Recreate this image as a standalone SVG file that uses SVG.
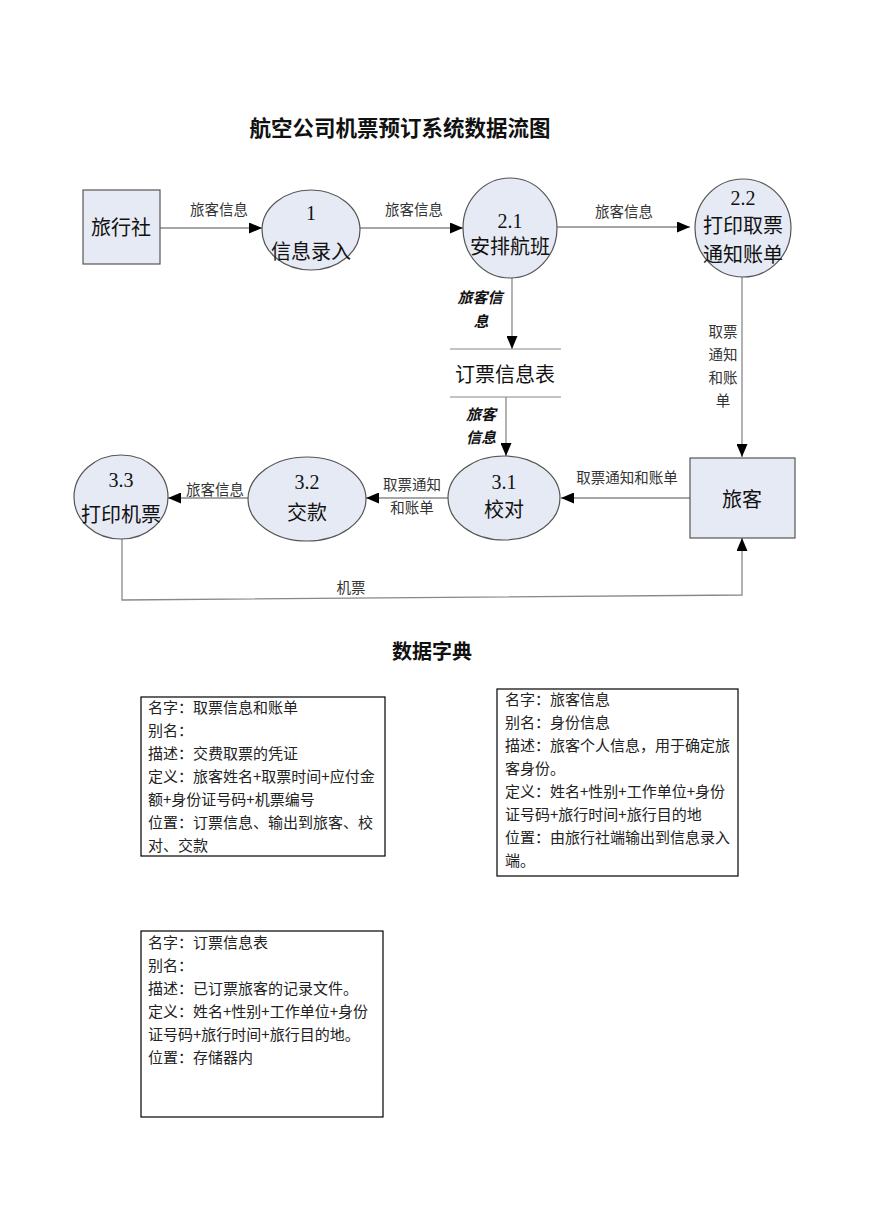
<svg xmlns="http://www.w3.org/2000/svg" width="869" height="1228" viewBox="0 0 869 1228">
<style>
text{font-family:"Liberation Serif","Noto Sans CJK SC",serif;fill:#111}
.cn{font-family:"Noto Sans CJK SC","Liberation Sans",sans-serif}
.node{fill:#e6eaf4;stroke:#555;stroke-width:1.2}
.big{font-size:20px;text-anchor:middle}
.lbl{font-size:14.5px;text-anchor:middle;fill:#333}
.bi{font-size:15px;text-anchor:middle;font-weight:bold;font-style:italic}
.conn{fill:none;stroke:#888;stroke-width:1.3}
.dict{fill:#fff;stroke:#000;stroke-width:1.2}
.dt{font-size:15px;fill:#222}
.title{font-size:21.5px;font-weight:bold;text-anchor:middle}
</style>
<defs>
<marker id="arr" markerUnits="userSpaceOnUse" markerWidth="13" markerHeight="11" refX="13" refY="5.5" orient="auto">
<path d="M0,0 L13,5.5 L0,11 z" fill="#000"/>
</marker>
</defs>
<rect width="869" height="1228" fill="#fff"/>
<text class="title cn" x="400" y="136">航空公司机票预订系统数据流图</text>

<g id="connectors">
<line class="conn" x1="160" y1="228" x2="262" y2="228" marker-end="url(#arr)"/>
<line class="conn" x1="360" y1="228" x2="463" y2="228" marker-end="url(#arr)"/>
<line class="conn" x1="557" y1="227" x2="690" y2="227" marker-end="url(#arr)"/>
<line class="conn" x1="512" y1="277" x2="512" y2="349" marker-end="url(#arr)"/>
<line class="conn" x1="506" y1="397" x2="506" y2="456" marker-end="url(#arr)"/>
<line class="conn" x1="742" y1="277" x2="742" y2="457" marker-end="url(#arr)"/>
<line class="conn" x1="690" y1="498" x2="561" y2="498" marker-end="url(#arr)"/>
<line class="conn" x1="448" y1="498" x2="366" y2="498" marker-end="url(#arr)"/>
<line class="conn" x1="248" y1="498" x2="168" y2="498" marker-end="url(#arr)"/>
<polyline class="conn" points="122,539 122,600 742,595 742,538" marker-end="url(#arr)"/>
<text class="lbl cn" x="219" y="215">旅客信息</text>
<text class="lbl cn" x="414" y="215">旅客信息</text>
<text class="lbl cn" x="624" y="217">旅客信息</text>
<text class="bi cn" x="480" y="303">旅客信</text>
<text class="bi cn" x="481" y="327">息</text>
<text class="bi cn" x="481" y="420">旅客</text>
<text class="bi cn" x="481" y="443">信息</text>
<text class="lbl cn" x="723" y="337">取票</text>
<text class="lbl cn" x="723" y="360">通知</text>
<text class="lbl cn" x="723" y="383">和账</text>
<text class="lbl cn" x="723" y="406">单</text>
<text class="lbl cn" x="627" y="483">取票通知和账单</text>
<text class="lbl cn" x="412" y="490">取票通知</text>
<text class="lbl cn" x="412" y="513">和账单</text>
<text class="lbl cn" x="215" y="495">旅客信息</text>
<text class="lbl cn" x="351" y="593">机票</text>
</g>

<g id="n-agency">
<rect class="node" x="83" y="190" width="77" height="74"/>
<text class="big cn" x="121" y="235">旅行社</text>
</g>
<g id="n-1">
<ellipse class="node" cx="311" cy="230" rx="49" ry="40"/>
<text class="big" x="311" y="220">1</text>
<text class="big cn" x="311" y="259">信息录入</text>
</g>
<g id="n-2-1">
<ellipse class="node" cx="510" cy="228" rx="47" ry="50"/>
<text class="big" x="510" y="228">2.1</text>
<text class="big cn" x="510" y="254">安排航班</text>
</g>
<g id="n-2-2">
<ellipse class="node" cx="743" cy="228" rx="48" ry="49"/>
<text class="big" x="743" y="205">2.2</text>
<text class="big cn" x="743" y="233">打印取票</text>
<text class="big cn" x="743" y="262">通知账单</text>
</g>
<g id="n-store">
<line x1="450" y1="349" x2="561" y2="349" stroke="#888" stroke-width="1.2"/>
<line x1="450" y1="397" x2="561" y2="397" stroke="#888" stroke-width="1.2"/>
<text class="big cn" x="505" y="382">订票信息表</text>
</g>
<g id="n-traveler">
<rect class="node" x="690" y="458" width="105" height="80"/>
<text class="big cn" x="742" y="507">旅客</text>
</g>
<g id="n-3-1">
<ellipse class="node" cx="504" cy="498" rx="56" ry="42"/>
<text class="big" x="504" y="489">3.1</text>
<text class="big cn" x="504" y="517">校对</text>
</g>
<g id="n-3-2">
<ellipse class="node" cx="307" cy="499" rx="59" ry="42"/>
<text class="big" x="307" y="489">3.2</text>
<text class="big cn" x="307" y="520">交款</text>
</g>
<g id="n-3-3">
<ellipse class="node" cx="121" cy="497" rx="47" ry="42"/>
<text class="big" x="121" y="487">3.3</text>
<text class="big cn" x="121" y="522">打印机票</text>
</g>

<text class="title cn" x="432" y="659" style="font-size:20px">数据字典</text>

<g id="dict-1">
<rect class="dict" x="141" y="697" width="244" height="159"/>
<text class="dt cn" x="148" y="713">名字：取票信息和账单</text>
<text class="dt cn" x="148" y="736">别名：</text>
<text class="dt cn" x="148" y="759">描述：交费取票的凭证</text>
<text class="dt cn" x="148" y="782">定义：旅客姓名+取票时间+应付金</text>
<text class="dt cn" x="148" y="805">额+身份证号码+机票编号</text>
<text class="dt cn" x="148" y="828">位置：订票信息、输出到旅客、校</text>
<text class="dt cn" x="148" y="851">对、交款</text>
</g>
<g id="dict-2">
<rect class="dict" x="497" y="689" width="241" height="187"/>
<text class="dt cn" x="505" y="705">名字：旅客信息</text>
<text class="dt cn" x="505" y="728">别名：身份信息</text>
<text class="dt cn" x="505" y="751">描述：旅客个人信息，用于确定旅</text>
<text class="dt cn" x="505" y="774">客身份。</text>
<text class="dt cn" x="505" y="797">定义：姓名+性别+工作单位+身份</text>
<text class="dt cn" x="505" y="820">证号码+旅行时间+旅行目的地</text>
<text class="dt cn" x="505" y="843">位置：由旅行社端输出到信息录入</text>
<text class="dt cn" x="505" y="866">端。</text>
</g>
<g id="dict-3">
<rect class="dict" x="141" y="931" width="242" height="186"/>
<text class="dt cn" x="148" y="948">名字：订票信息表</text>
<text class="dt cn" x="148" y="971">别名：</text>
<text class="dt cn" x="148" y="994">描述：已订票旅客的记录文件。</text>
<text class="dt cn" x="148" y="1017">定义：姓名+性别+工作单位+身份</text>
<text class="dt cn" x="148" y="1040">证号码+旅行时间+旅行目的地。</text>
<text class="dt cn" x="148" y="1063">位置：存储器内</text>
</g>
</svg>
